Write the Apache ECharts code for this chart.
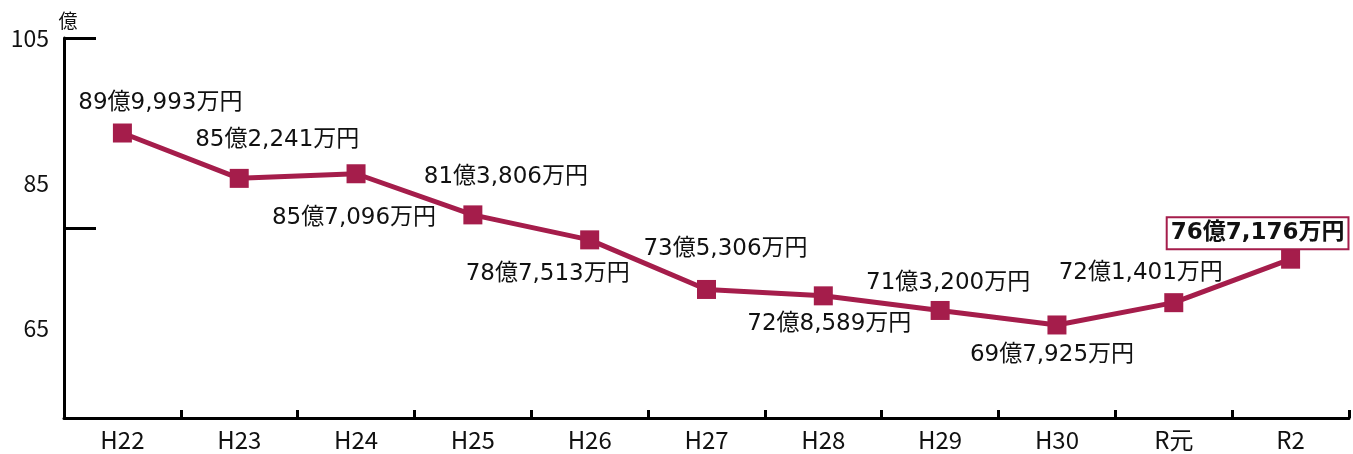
<!DOCTYPE html>
<html><head><meta charset="utf-8">
<script src="https://cdn.jsdelivr.net/npm/echarts@6/dist/echarts.min.js"></script>
<style>html,body{margin:0;padding:0;background:#fff}#c{width:1353px;height:454px}</style>
</head><body><div id="c"></div>
<script>
// Data
const categories = ['H22','H23','H24','H25','H26','H27','H28','H29','H30','R元','R2'];
const valuesMan = [899993, 852241, 857096, 813806, 787513, 735306, 728589, 713200, 697925, 721401, 767176]; // 万円
const yTickLabels = [65, 85, 105];

// Layout of each value label relative to its point [dx, dy]
const labelOffsets = [[38,-30],[38,-38],[-2,44],[33,-38],[-42,34],[19,-40],[6,28],[8,-27],[-5,30],[-33,-30],[-33,-26]];

const FONT = '"Noto Sans CJK JP", "Noto Sans", sans-serif';
const LFONT = '"DejaVu Sans", "Noto Sans CJK JP", sans-serif';
const RED = '#A51D4B';

function fmt(v){
  const oku = Math.floor(v/10000);
  const man = v % 10000;
  return oku + '億' + man.toLocaleString('en-US') + '万円';
}

const data = valuesMan.map((v,i)=>{
  const last = i === valuesMan.length-1;
  return {
    value: v/10000,
    label: {
      show: true,
      position: 'inside',
      offset: labelOffsets[i],
      formatter: fmt(v),
      fontFamily: LFONT,
      fontSize: 23,
      fontWeight: last ? 'bold' : 'normal',
      color: '#111',
      backgroundColor: last ? '#fff' : 'transparent',
      borderColor: last ? RED : 'transparent',
      borderWidth: last ? 2 : 0,
      padding: last ? [4,3,3,3] : 0
    }
  };
});

const chart = echarts.init(document.getElementById('c'));
chart.setOption({
  animation: false,
  grid: {left: 64, right: 4, top: 38, bottom: 36, containLabel: false},
  xAxis: {
    type: 'category',
    data: categories,
    boundaryGap: true,
    axisLine: {lineStyle: {color: '#000', width: 3}},
    axisTick: {show: true, inside: true, length: 8, lineStyle: {color: '#000', width: 3}},
    axisLabel: {fontFamily: FONT, fontSize: 24, color: '#111', margin: 10}
  },
  yAxis: [
    {
      type: 'value', min: 60, max: 100, interval: 20,
      axisLine: {show: true, lineStyle: {color: '#000', width: 3}},
      axisTick: {show: true, inside: true, length: 32, lineStyle: {color: '#000', width: 3}},
      axisLabel: {show: false},
      splitLine: {show: false}
    },
    {
      type: 'value', position: 'left', min: 105 - 380/7.25, max: 105,
      axisLine: {show: false},
      axisTick: {show: false},
      splitLine: {show: false},
      axisLabel: {show: true, customValues: yTickLabels, fontFamily: FONT, fontSize: 23, color: '#111', margin: 15},
      name: '億',
      nameLocation: 'end',
      nameGap: 8,
      nameTextStyle: {fontFamily: FONT, fontSize: 19, color: '#111', align: 'center', padding: [0,0,0,8]}
    }
  ],
  series: [{
    type: 'line',
    yAxisIndex: 0,
    data: data,
    symbol: 'rect',
    symbolSize: 19,
    itemStyle: {color: RED},
    lineStyle: {color: RED, width: 5},
    z: 3
  }]
});
</script></body></html>
